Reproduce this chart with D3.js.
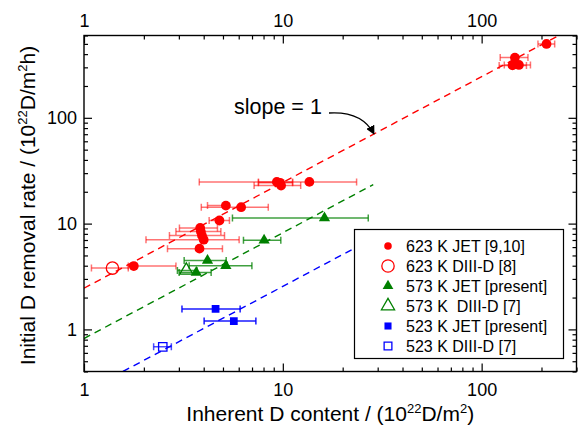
<!DOCTYPE html>
<html><head><meta charset="utf-8">
<script src="https://cdn.jsdelivr.net/npm/d3@7"></script>
<style>
body{margin:0;background:#fff;}
text{font-family:"Liberation Sans",Arial,sans-serif;fill:#000;}
</style></head>
<body><svg id="c" width="579" height="429"></svg>
<script>
// ---- data ----
// [x, y, xLow, xHigh]
const jet623 = [
  [212,499,192,233],[147,371,124,171],[143,313,122.5,168],[154,316,130,176],
  [13.6,24.8,3.8,23.5],[9.33,24.8,7.54,11.2],[9.69,24.3,7.54,11.2],[9.8,22.9,7.17,12.3],
  [6.17,14.3,3.89,8.45],[5.17,14.8,4.18,5.33],[4.8,10.7,4.26,5.39],
  [3.84,9.1,3.02,4.69],[3.87,8.4,2.9,4.88],[3.92,7.7,2.69,5.09],[4.0,7.05,2.05,6.03],
  [3.81,5.8,2.63,4.97],[1.78,3.97,1.67,2.9]
];
const diiid623 = [[1.39,3.8,1.09,1.67]];
const jet573 = [[16.2,11.3,5.58,26.9],[8.05,6.95,6.34,9.77],[4.18,4.49,3.19,5.19],[5.17,4.0,3.38,6.99],[3.67,3.45,3.01,4.36]];
const diiid573 = [[3.27,3.61,2.95,3.7]];
const jet523 = [[4.59,1.56,3.11,6.1],[5.67,1.2,4.02,7.32]];
const diiid523 = [[2.49,0.684,2.24,2.75]];
// slope-1 fit lines: y = k*x over [x0, x1]
const fitK = [2.45, 0.82, 0.255];
const fitX = [[1,245],[1,28.5],[1.57,25]];
const fitColors = ["#ff0000","#008000","#0000ff"];
const xMajor = [1,10,100];
const xMinor = [2,3,4,5,6,7,8,9,20,30,40,50,60,70,80,90,200,300];
const yMajor = [1,10,100];
const yMinor = [0.4,0.5,0.6,0.7,0.8,0.9,2,3,4,5,6,7,8,9,20,30,40,50,60,70,80,90,200,300,400,500,600];
const legendLabels = ["623 K JET [9,10]","623 K DIII-D [8]","573 K JET [present]","573 K  DIII-D [7]","523 K JET [present]","523 K DIII-D [7]"];

const L=84,R=576.5,T=35.5,B=371.5;
const svg=d3.select("#c");
const x=d3.scaleLog().domain([1,300]).range([L,R]);
const y=d3.scaleLog().domain([0.4,600]).range([B,T]);

svg.append("defs").append("clipPath").attr("id","clip").append("rect")
  .attr("x",L).attr("y",T).attr("width",R-L).attr("height",B-T);

// fit lines
const plot=svg.append("g").attr("clip-path","url(#clip)");
fitK.forEach((k,i)=>{
  const xs=fitX[i];
  plot.append("line").attr("x1",x(xs[0])).attr("y1",y(k*xs[0])).attr("x2",x(xs[1])).attr("y2",y(k*xs[1]))
    .attr("stroke",fitColors[i]).attr("stroke-width",1.4).attr("stroke-dasharray","7,5");
});

// error bars
function ebars(data,color,op){
  const g=plot.append("g").attr("stroke",color).attr("stroke-opacity",op).attr("stroke-width",1.5).attr("fill","none");
  data.forEach(d=>{
    const yy=y(d[1]);
    g.append("line").attr("x1",x(d[2])).attr("x2",x(d[3])).attr("y1",yy).attr("y2",yy);
    [d[2],d[3]].forEach(v=>g.append("line").attr("x1",x(v)).attr("x2",x(v)).attr("y1",yy-3.5).attr("y2",yy+3.5));
  });
}
ebars(jet623,"#ff0000",0.55);
ebars(diiid623,"#ff0000",0.55);
ebars(jet573,"#008000",0.75);
ebars(diiid573,"#008000",0.75);
ebars(jet523,"#0000ff",0.9);
ebars(diiid523,"#0000ff",0.7);

const sym={
  circle:d3.symbol().type(d3.symbolCircle),
  tri:d3.symbol().type(d3.symbolTriangle),
  sq:d3.symbol().type(d3.symbolSquare)
};
function marks(data,type,size,color,filled){
  plot.append("g").selectAll("path").data(data).join("path")
    .attr("transform",d=>`translate(${x(d[0])},${y(d[1])})`)
    .attr("d",sym[type].size(size)())
    .attr("fill",filled?color:"#fff").attr("fill-opacity",filled?1:0)
    .attr("stroke",color).attr("stroke-width",filled?0:1.3);
}
marks(jet623,"circle",75,"#ff0000",true);
marks(diiid623,"circle",120,"#ff0000",false);
marks(jet573,"tri",55,"#008000",true);
marks(diiid573,"tri",75,"#008000",false);
marks(jet523,"sq",60,"#0000ff",true);
marks(diiid523,"sq",70,"#0000ff",false);

// axes
function axis(gen,pos,vals,size,labels){
  const a=gen.tickValues(vals).tickSizeInner(-size).tickSizeOuter(0).tickPadding(labels?7:0)
    .tickFormat(labels?d3.format("~g"):()=> "");
  const g=svg.append("g").attr("transform",pos).call(a);
  g.select(".domain").remove();
  g.selectAll("line").attr("stroke","#000").attr("stroke-width",1.2);
  g.selectAll("text").style("font-size","18px").attr("fill","#000");
  return g;
}
axis(d3.axisBottom(x),`translate(0,${B})`,xMajor,8,true).selectAll("text").attr("dy","0.95em");
axis(d3.axisBottom(x),`translate(0,${B})`,xMinor,4,false);
axis(d3.axisTop(x),`translate(0,${T})`,xMajor,8,true).selectAll("text").attr("dy","-0.1em");
axis(d3.axisTop(x),`translate(0,${T})`,xMinor,4,false);
axis(d3.axisLeft(y),`translate(${L},0)`,yMajor,8,true);
axis(d3.axisLeft(y),`translate(${L},0)`,yMinor,4,false);
axis(d3.axisRight(y),`translate(${R},0)`,yMajor,8,false);
axis(d3.axisRight(y),`translate(${R},0)`,yMinor,4,false);
svg.append("rect").attr("x",L).attr("y",T).attr("width",R-L).attr("height",B-T)
  .attr("fill","none").attr("stroke","#000").attr("stroke-width",1.4);

// titles
const xt=svg.append("text").attr("x",(L+R)/2).attr("y",421).attr("text-anchor","middle").style("font-size","21px");
xt.append("tspan").text("Inherent D content / (10");
xt.append("tspan").attr("dy",-8).style("font-size","13px").text("22");
xt.append("tspan").attr("dy",8).text("D/m");
xt.append("tspan").attr("dy",-8).style("font-size","13px").text("2");
xt.append("tspan").attr("dy",8).text(")");

const yt=svg.append("text").attr("transform",`translate(35,${(T+B)/2+2}) rotate(-90)`).attr("text-anchor","middle").style("font-size","21px");
yt.append("tspan").text("Initial D removal rate / (10");
yt.append("tspan").attr("dy",-8).style("font-size","13px").text("22");
yt.append("tspan").attr("dy",8).text("D/m");
yt.append("tspan").attr("dy",-8).style("font-size","13px").text("2");
yt.append("tspan").attr("dy",8).text("h)");

// annotation
svg.append("text").attr("x",234).attr("y",114).style("font-size","21.5px").text("slope = 1");
svg.append("defs").append("marker").attr("id","ah").attr("viewBox","0 0 10 10").attr("refX",9).attr("refY",5)
  .attr("markerWidth",7).attr("markerHeight",7).attr("orient","auto")
  .append("path").attr("d","M0,0 L10,5 L0,10 z").attr("fill","#000");
svg.append("path").attr("d","M329,113 Q362,111 374,134").attr("fill","none").attr("stroke","#000")
  .attr("stroke-width",1.3).attr("marker-end","url(#ah)");

// legend
const lg=svg.append("g");
lg.append("rect").attr("x",354.5).attr("y",229.5).attr("width",209).attr("height",129)
  .attr("fill","#fff").attr("stroke","#000").attr("stroke-width",1.2);
const legSpec=[["circle",45,"#ff0000",true],["circle",120,"#ff0000",false],["tri",50,"#008000",true],
  ["tri",75,"#008000",false],["sq",50,"#0000ff",true],["sq",60,"#0000ff",false]];
legendLabels.forEach((t,i)=>{
  const yy=246+i*20;
  const s=legSpec[i];
  lg.append("path").attr("transform",`translate(388,${yy})`).attr("d",sym[s[0]].size(s[1])())
    .attr("fill",s[3]?s[2]:"none").attr("stroke",s[2]).attr("stroke-width",s[3]?0:1.3);
  lg.append("text").attr("x",406).attr("y",yy+6).style("font-size","16px").style("white-space","pre")
    .attr("xml:space","preserve").text(t);
});
</script></body></html>
